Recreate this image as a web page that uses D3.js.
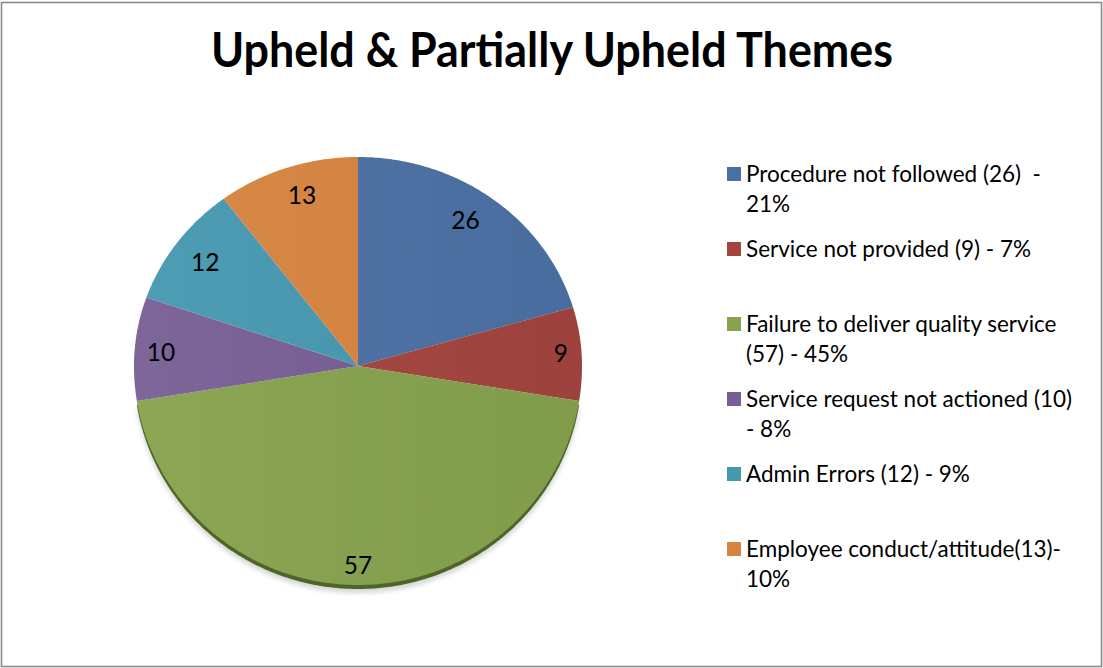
<!DOCTYPE html>
<html>
<head>
<meta charset="utf-8">
<script src="https://cdn.jsdelivr.net/npm/d3@7"></script>
<style>
  html, body { margin: 0; padding: 0; background: #fff; }
  svg { display: block; }
  text { font-family: Lato, "Open Sans", "Liberation Sans", sans-serif; fill: #000; white-space: pre; }
</style>
</head>
<body>
<svg id="chart" width="1103" height="668"></svg>
<script>
// Complaint themes (upheld and partially upheld)
const categories = [
  "Procedure not followed",
  "Service not provided",
  "Failure to deliver quality service",
  "Service request not actioned",
  "Admin Errors",
  "Employee conduct/attitude"
];
const counts = [26, 9, 57, 10, 12, 13];
const legendLabels = [
  "Procedure not followed (26)  -\n21%",
  "Service not provided (9) - 7%",
  "Failure to deliver quality service\n(57) - 45%",
  "Service request not actioned (10)\n- 8%",
  "Admin Errors (12) - 9%",
  "Employee conduct/attitude(13)-\n10%"
];
const sliceColors = ["#4a71a4", "#a4443f", "#86a24d", "#775e94", "#4598b0", "#d8843f"];
const titleText = "Upheld & Partially Upheld Themes";

const svg = d3.select("#chart");
const W = 1103, H = 668;

// outer frame
svg.append("rect")
  .attr("x", 1.5).attr("y", 2.5)
  .attr("width", W - 3).attr("height", H - 4)
  .attr("fill", "#fff").attr("stroke", "#8a8a8a").attr("stroke-width", 1.6);

// title
svg.append("text")
  .attr("x", 552).attr("y", 67)
  .attr("text-anchor", "middle")
  .attr("font-size", 47).attr("font-weight", 700)
  .attr("textLength", 682).attr("lengthAdjust", "spacingAndGlyphs")
  .text(titleText);

// Disc seen from a low elevation: the near (lower) half is drawn a little deeper
const cx = 358, cy = 366, rx = 224, ryFar = 209, ryNear = 219;
const project = (a, k = 1) => {
  const c = Math.cos(a);
  return [cx + k * rx * Math.sin(a), cy - k * c * (c > 0 ? ryFar : ryNear)];
};

const color = d3.scaleOrdinal().domain(categories).range(sliceColors);
const pie = d3.pie().sort(null).value((d, i) => counts[i]);
const arcs = pie(categories);

const line = d3.line().curve(d3.curveLinearClosed);
function slicePath(d, dy = 0) {
  const pts = [[cx, cy + dy]];
  const n = Math.max(8, Math.ceil((d.endAngle - d.startAngle) / 0.01));
  for (let j = 0; j <= n; j++) {
    const a = d.startAngle + (d.endAngle - d.startAngle) * j / n;
    const p = project(a);
    pts.push([p[0], p[1] + dy]);
  }
  return line(pts);
}

const defs = svg.append("defs");
defs.append("filter").attr("id", "soft")
  .attr("x", "-10%").attr("y", "-10%").attr("width", "120%").attr("height", "130%")
  .append("feGaussianBlur").attr("stdDeviation", 2.5);
defs.append("filter").attr("id", "rimBlur")
  .append("feGaussianBlur").attr("stdDeviation", 0.7);

// soft drop shadow under the disc
svg.append("path")
  .attr("d", slicePath({ startAngle: Math.PI * 0.55, endAngle: Math.PI * 1.45 }, 8))
  .attr("fill", "#000").attr("opacity", 0.16)
  .attr("filter", "url(#soft)");

// darker rim giving the disc some thickness along its front edge
svg.append("path")
  .attr("d", slicePath(arcs[2], 4))
  .attr("fill", "#4e6526")
  .attr("filter", "url(#rimBlur)");

svg.selectAll("path.slice")
  .data(arcs)
  .join("path")
  .attr("class", "slice")
  .attr("d", d => slicePath(d))
  .attr("fill", d => color(d.data));

// subtle shading across the face
const shade = defs.append("linearGradient").attr("id", "shade")
  .attr("x1", "0").attr("y1", "0").attr("x2", "1").attr("y2", "0");
shade.append("stop").attr("offset", "0%").attr("stop-color", "#fff").attr("stop-opacity", 0.05);
shade.append("stop").attr("offset", "100%").attr("stop-color", "#000").attr("stop-opacity", 0.04);
svg.append("path")
  .attr("d", slicePath({ startAngle: 0, endAngle: 2 * Math.PI }))
  .attr("fill", "url(#shade)");

// data labels, placed inside each slice (thin slices sit nearer the edge)
const labelFit = [[0.80, 0.87], [0.907, 1.02], [0, 0.91], [0.883, 0.77], [0.845, 0.845], [0.79, 0.86]];
svg.selectAll("text.val")
  .data(arcs)
  .join("text")
  .attr("class", "val")
  .attr("text-anchor", "middle")
  .attr("font-size", 24.5)
  .attr("x", (d, i) => {
    const a = (d.startAngle + d.endAngle) / 2;
    return cx + labelFit[i][0] * rx * Math.sin(a);
  })
  .attr("y", (d, i) => {
    const a = (d.startAngle + d.endAngle) / 2;
    return project(a, labelFit[i][1])[1] + 8.8;
  })
  .text((d, i) => counts[i]);

// legend
const legend = svg.append("g").attr("transform", "translate(727,182)");
const item = legend.selectAll("g.item")
  .data(categories)
  .join("g")
  .attr("class", "item")
  .attr("transform", (d, i) => `translate(0,${i * 75})`);

item.append("rect")
  .attr("x", 0).attr("y", -15)
  .attr("width", 14).attr("height", 14)
  .attr("fill", d => color(d));

item.append("text")
  .attr("font-size", 22.5)
  .selectAll("tspan")
  .data((d, i) => legendLabels[i].split("\n"))
  .join("tspan")
  .attr("x", 19)
  .attr("y", (t, j) => j * 30)
  .text(t => t);
</script>
</body>
</html>
